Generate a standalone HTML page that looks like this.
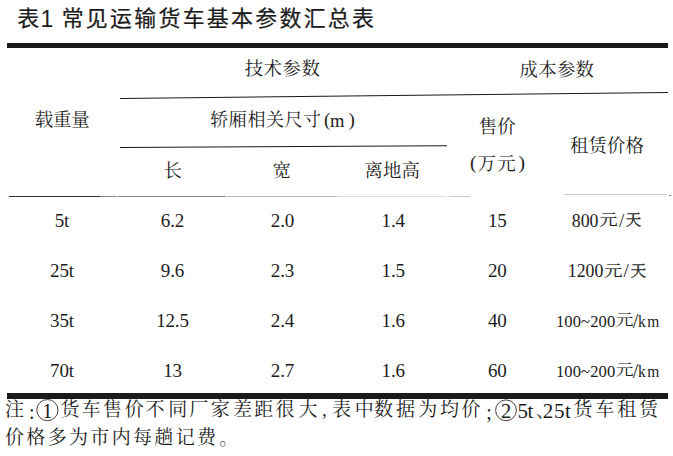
<!DOCTYPE html>
<html lang="zh-CN"><head><meta charset="utf-8"><title>表1 常见运输货车基本参数汇总表</title>
<style>
html,body{margin:0;padding:0;background:#fff}
#page{position:relative;width:673px;height:456px;overflow:hidden;background:#fff;font-family:"Liberation Serif",serif;color:#1c1c1c}
#page span,#page div{position:absolute;white-space:nowrap}
.n{font-family:"Liberation Serif",serif}
.a{font-family:"Liberation Sans",sans-serif}
.z{color:transparent;overflow:hidden;line-height:1;font-family:"Liberation Serif",serif;user-select:none}
#ink{position:absolute;left:0;top:0;pointer-events:none}
#ink .h{font-family:"Liberation Sans","Noto Sans CJK SC",sans-serif}
#ink .s{font-family:"Liberation Serif","Noto Serif CJK SC",serif}
.r{background:#1a1a1a}
</style></head><body>
<div id="page">
<div class="r" style="left:7.00px;top:43.00px;width:661.00px;height:5.00px;"></div>
<div class="r" style="left:7.00px;top:393.00px;width:661.00px;height:5.70px;"></div>
<div class="r" style="left:120.40px;top:97.80px;width:547.70px;height:1.00px;background:#1a1a1a;transform-origin:0 50%;transform:rotate(-0.6172deg);"></div>
<div class="r" style="left:120.40px;top:146.70px;width:327.30px;height:1.00px;background:#1a1a1a;transform-origin:0 50%;transform:rotate(-0.3151deg);"></div>
<div class="r" style="left:9.00px;top:196.00px;width:91.00px;height:1.20px;background:#333;"></div>
<div class="r" style="left:100.00px;top:196.00px;width:17.00px;height:1.20px;background:#888;"></div>
<div class="r" style="left:118.00px;top:196.00px;width:107.50px;height:1.20px;background:#888;"></div>
<div class="r" style="left:227.00px;top:196.00px;width:110.00px;height:1.20px;background:#bbb;"></div>
<div class="r" style="left:337.00px;top:196.00px;width:110.00px;height:1.00px;background:#ddd;"></div>
<div class="r" style="left:448.50px;top:196.00px;width:21.00px;height:1.00px;background:#ccc;"></div>
<div class="r" style="left:669.00px;top:194.50px;width:1.50px;height:1.50px;background:#777;"></div>
<div class="r" style="left:564.00px;top:193.80px;width:102.60px;height:1.00px;background:#ccc;"></div>
<span class="n" style="top:109.30px;font-size:18.60px;line-height:23px;left:330.00px;">m</span>
<span class="n" style="top:208.80px;font-size:19.00px;line-height:24px;left:62.00px;width:200px;margin-left:-100px;text-align:center;letter-spacing:-0.15px;">5t</span>
<span class="n" style="top:208.80px;font-size:19.00px;line-height:24px;left:172.50px;width:200px;margin-left:-100px;text-align:center;letter-spacing:-0.15px;">6.2</span>
<span class="n" style="top:208.80px;font-size:19.00px;line-height:24px;left:282.50px;width:200px;margin-left:-100px;text-align:center;letter-spacing:-0.15px;">2.0</span>
<span class="n" style="top:208.80px;font-size:19.00px;line-height:24px;left:393.20px;width:200px;margin-left:-100px;text-align:center;letter-spacing:-0.15px;">1.4</span>
<span class="n" style="top:208.80px;font-size:19.00px;line-height:24px;left:497.30px;width:200px;margin-left:-100px;text-align:center;letter-spacing:-0.15px;">15</span>
<span class="n" style="top:258.80px;font-size:19.00px;line-height:24px;left:62.00px;width:200px;margin-left:-100px;text-align:center;letter-spacing:-0.15px;">25t</span>
<span class="n" style="top:258.80px;font-size:19.00px;line-height:24px;left:172.50px;width:200px;margin-left:-100px;text-align:center;letter-spacing:-0.15px;">9.6</span>
<span class="n" style="top:258.80px;font-size:19.00px;line-height:24px;left:282.50px;width:200px;margin-left:-100px;text-align:center;letter-spacing:-0.15px;">2.3</span>
<span class="n" style="top:258.80px;font-size:19.00px;line-height:24px;left:393.20px;width:200px;margin-left:-100px;text-align:center;letter-spacing:-0.15px;">1.5</span>
<span class="n" style="top:258.80px;font-size:19.00px;line-height:24px;left:497.30px;width:200px;margin-left:-100px;text-align:center;letter-spacing:-0.15px;">20</span>
<span class="n" style="top:308.80px;font-size:19.00px;line-height:24px;left:62.00px;width:200px;margin-left:-100px;text-align:center;letter-spacing:-0.15px;">35t</span>
<span class="n" style="top:308.80px;font-size:19.00px;line-height:24px;left:172.50px;width:200px;margin-left:-100px;text-align:center;letter-spacing:-0.15px;">12.5</span>
<span class="n" style="top:308.80px;font-size:19.00px;line-height:24px;left:282.50px;width:200px;margin-left:-100px;text-align:center;letter-spacing:-0.15px;">2.4</span>
<span class="n" style="top:308.80px;font-size:19.00px;line-height:24px;left:393.20px;width:200px;margin-left:-100px;text-align:center;letter-spacing:-0.15px;">1.6</span>
<span class="n" style="top:308.80px;font-size:19.00px;line-height:24px;left:497.30px;width:200px;margin-left:-100px;text-align:center;letter-spacing:-0.15px;">40</span>
<span class="n" style="top:358.80px;font-size:19.00px;line-height:24px;left:62.00px;width:200px;margin-left:-100px;text-align:center;letter-spacing:-0.15px;">70t</span>
<span class="n" style="top:358.80px;font-size:19.00px;line-height:24px;left:172.50px;width:200px;margin-left:-100px;text-align:center;letter-spacing:-0.15px;">13</span>
<span class="n" style="top:358.80px;font-size:19.00px;line-height:24px;left:282.50px;width:200px;margin-left:-100px;text-align:center;letter-spacing:-0.15px;">2.7</span>
<span class="n" style="top:358.80px;font-size:19.00px;line-height:24px;left:393.20px;width:200px;margin-left:-100px;text-align:center;letter-spacing:-0.15px;">1.6</span>
<span class="n" style="top:358.80px;font-size:19.00px;line-height:24px;left:497.30px;width:200px;margin-left:-100px;text-align:center;letter-spacing:-0.15px;">60</span>
<span class="n" style="top:210.30px;font-size:17.80px;line-height:22px;left:571.80px;">800</span>
<span class="n" style="top:208.80px;font-size:19.00px;line-height:24px;left:619.00px;">/</span>
<span class="n" style="top:260.30px;font-size:17.80px;line-height:22px;left:567.80px;">1200</span>
<span class="n" style="top:258.80px;font-size:19.00px;line-height:24px;left:623.60px;">/</span>
<span class="n" style="top:311.30px;font-size:16.60px;line-height:21px;left:555.90px;letter-spacing:0.10px;">100~200</span>
<span class="n" style="top:308.80px;font-size:20.00px;line-height:25px;left:632.80px;">/</span>
<span class="n" style="top:310.80px;font-size:17.20px;line-height:22px;left:637.50px;letter-spacing:1.60px;transform-origin:0 0;transform:scaleX(0.9);">km</span>
<span class="n" style="top:361.30px;font-size:16.60px;line-height:21px;left:555.90px;letter-spacing:0.10px;">100~200</span>
<span class="n" style="top:358.80px;font-size:20.00px;line-height:25px;left:632.80px;">/</span>
<span class="n" style="top:360.80px;font-size:17.20px;line-height:22px;left:637.50px;letter-spacing:1.60px;transform-origin:0 0;transform:scaleX(0.9);">km</span>
<span class="n" style="top:398.30px;font-size:21.00px;line-height:26px;left:517.40px;letter-spacing:-0.30px;">5t</span>
<span class="n" style="top:398.30px;font-size:21.00px;line-height:26px;left:542.80px;letter-spacing:0.60px;">25t</span>
<span class="n" style="top:398.30px;font-size:20.50px;line-height:26px;left:47.40px;width:200px;margin-left:-100px;text-align:center;">1</span>
<span class="n" style="top:398.30px;font-size:20.50px;line-height:26px;left:506.00px;width:200px;margin-left:-100px;text-align:center;">2</span>
<span class="z" style="left:17.6px;top:6.3px;width:356.0px;height:21.0px;font-size:16.8px">表1 常见运输货车基本参数汇总表</span>
<span class="z" style="left:244.7px;top:59.3px;width:75.1px;height:18.4px;font-size:14.7px">技术参数</span>
<span class="z" style="left:519.5px;top:59.5px;width:74.5px;height:18.4px;font-size:14.7px">成本参数</span>
<span class="z" style="left:34.7px;top:110.3px;width:55.0px;height:18.4px;font-size:14.7px">载重量</span>
<span class="z" style="left:210.3px;top:109.9px;width:110.8px;height:18.0px;font-size:14.4px">轿厢相关尺寸(m)</span>
<span class="z" style="left:478.7px;top:117.2px;width:36.9px;height:18.4px;font-size:14.7px">售价</span>
<span class="z" style="left:477.4px;top:153.5px;width:38.3px;height:18.4px;font-size:14.7px">(万元)</span>
<span class="z" style="left:570.0px;top:135.8px;width:73.9px;height:18.4px;font-size:14.7px">租赁价格</span>
<span class="z" style="left:163.5px;top:161.2px;width:18.4px;height:18.4px;font-size:14.7px">长</span>
<span class="z" style="left:272.5px;top:161.2px;width:18.4px;height:18.4px;font-size:14.7px">宽</span>
<span class="z" style="left:364.4px;top:161.2px;width:55.4px;height:18.4px;font-size:14.7px">离地高</span>
<span class="z" style="left:600.0px;top:212.0px;width:41.0px;height:16.0px;font-size:12.8px">元/天</span>
<span class="z" style="left:605.0px;top:262.0px;width:41.0px;height:16.0px;font-size:12.8px">元/天</span>
<span class="z" style="left:616.0px;top:312.1px;width:17.0px;height:16.0px;font-size:12.8px">元</span>
<span class="z" style="left:616.0px;top:362.0px;width:17.0px;height:16.0px;font-size:12.8px">元</span>
<span class="z" style="left:5.0px;top:399.2px;width:655.0px;height:19.0px;font-size:15.2px">注:①货车售价不同厂家差距很大,表中数据为均价;②5t、25t货车租赁</span>
<span class="z" style="left:5.0px;top:427.0px;width:225.0px;height:19.0px;font-size:15.2px">价格多为市内每趟记费。</span>
<svg id="ink" width="673" height="456" viewBox="0 0 673 456" aria-hidden="true"><g fill="#1c1c1c">
<text class="h" x="17.15" y="25.57" font-size="21.9" stroke="#1c1c1c" stroke-width="0.24">表</text>
<text class="h" x="40.5" y="26.8" font-size="23">1</text>
<text class="h" x="61.65 85.85 110.05 134.25 158.45 182.65 206.85 231.05 255.25 279.45 303.65 327.85 352.05" y="25.57" font-size="21.9" stroke="#1c1c1c" stroke-width="0.24">常见运输货车基本参数汇总表</text>
<text class="s" x="244.70 263.60 282.50 301.40" y="75.49" font-size="18.4">技术参数</text>
<text class="s" x="519.50 538.20 556.90 575.60" y="75.69" font-size="18.4">成本参数</text>
<text class="s" x="34.70 53.00 71.30" y="126.49" font-size="18.4">载重量</text>
<text class="s" x="210.30 228.85 247.40 265.95 284.50 303.05" y="125.74" font-size="18">轿厢相关尺寸</text>
<text class="s" x="324" y="125.5" font-size="19">(</text>
<text class="s" x="348.5" y="125.5" font-size="19">)</text>
<text class="s" x="478.70 497.20" y="133.39" font-size="18.4">售价</text>
<text class="s" x="477.40 497.30" y="169.69" font-size="18.4">万元</text>
<text class="s" x="470" y="168.6" font-size="19.5">(</text>
<text class="s" x="518.6" y="168.6" font-size="19.5">)</text>
<text class="s" x="570.00 588.50 607.00 625.50" y="151.99" font-size="18.4">租赁价格</text>
<text class="s" x="163.50" y="177.39" font-size="18.4">长</text>
<text class="s" x="272.50" y="177.39" font-size="18.4">宽</text>
<text class="s" x="364.40 382.90 401.40" y="177.39" font-size="18.4">离地高</text>
<text class="s" transform="translate(599.44 225.49) scale(1.243 1)" font-size="14.62" stroke="#1c1c1c" stroke-width="0.15">元</text>
<text class="s" transform="translate(625.48 225.48) scale(1.071 1)" font-size="14.75" stroke="#1c1c1c" stroke-width="0.3">天</text>
<text class="s" transform="translate(604.34 275.69) scale(1.243 1)" font-size="14.62" stroke="#1c1c1c" stroke-width="0.15">元</text>
<text class="s" transform="translate(630.38 275.68) scale(1.071 1)" font-size="14.75" stroke="#1c1c1c" stroke-width="0.3">天</text>
<text class="s" transform="translate(615.65 325.29) scale(1.214 1)" font-size="14.62">元</text>
<text class="s" transform="translate(615.65 375.19) scale(1.214 1)" font-size="14.62">元</text>
<text class="s" x="4.90" y="415.92" font-size="19">注</text>
<text class="s" x="28.9" y="418.5" font-size="20">:</text>
<text class="s" x="60.60 81.75 103.00 124.85 145.50 168.35 189.30 210.85 232.90 254.15 275.60 298.45 322.00 331.90 354.70 374.00 395.90 418.20 440.00 461.50" y="415.92" font-size="19">货车售价不同厂家差距很大,表中数据为均价</text>
<text class="s" x="486.3" y="418.5" font-size="20">;</text>
<text class="s" x="535.80" y="417.42" font-size="19" fill="#444">、</text>
<text class="s" x="573.40 595.30 617.20 639.10" y="415.92" font-size="19">货车租赁</text>
<text class="s" x="5.00 26.33 47.66 68.99 90.32 111.65 132.98 154.31 175.64 196.97" y="443.72" font-size="19">价格多为市内每趟记费</text>
<text class="s" x="219.30" y="445.32" font-size="19" fill="#555">。</text>
<circle cx="47.40" cy="410.10" r="10.60" fill="none" stroke="#3a2a2a" stroke-width="0.9"/>
<circle cx="506.00" cy="410.30" r="10.40" fill="none" stroke="#3a2a2a" stroke-width="0.9"/>
</g></svg>
</div></body></html>
